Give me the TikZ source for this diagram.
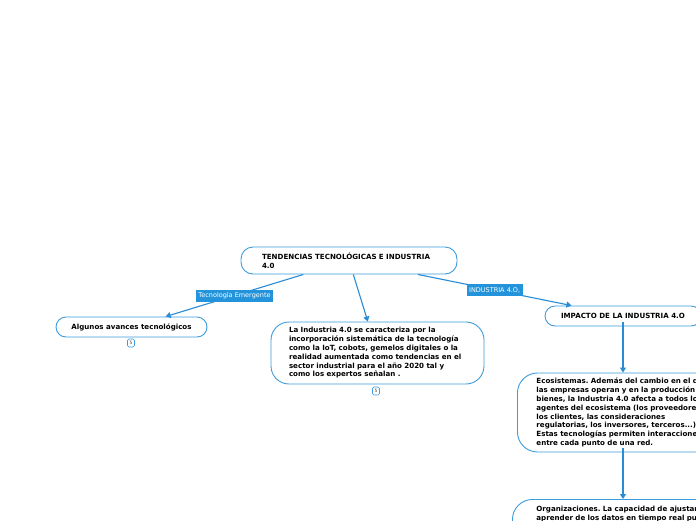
\documentclass[tikz,border=0pt]{standalone}
\usepackage{fontspec}
\setmainfont{DejaVu Sans}
\usetikzlibrary{arrows.meta}
\definecolor{bord}{HTML}{3C9CDC}
\definecolor{arr}{HTML}{2A8CD5}
\definecolor{lab}{HTML}{2394DB}
\frenchspacing
\begin{document}
\begin{tikzpicture}[x=1pt,y=-1pt,
  box/.style={draw=bord, line width=0.9pt, rounded corners=#1, fill=white,
    font=\fontsize{7.1}{8.8}\selectfont\bfseries, align=left, inner ysep=0pt},
  box/.default=10pt,
  conn/.style={draw=arr, line width=1.1pt, -{Triangle[length=5pt,width=6pt]}},
  lbl/.style={fill=lab, text=white, font=\fontsize{6.5}{7}\selectfont, inner xsep=2.5pt, inner ysep=0pt, minimum height=12pt},
  badge/.style={draw=bord, line width=0.6pt, rounded corners=1.5pt, fill=white, font=\fontsize{4.5}{5}\selectfont, inner sep=0pt, minimum width=7pt, minimum height=8pt, text=black!70}
]
\useasboundingbox (0,0) rectangle (696,520);
\clip (0,0) rectangle (696,520);
\fill[white] (0,0) rectangle (696,520);

\node[box=12pt, minimum width=216pt, minimum height=27pt, text width=174pt, inner xsep=21pt] (root) at (349,260.5)
  {TENDENCIAS TECNOLÓGICAS E INDUSTRIA\\4.0};

\node[box=10pt, minimum width=151pt, minimum height=20pt, align=center] (alg) at (131.5,327)
  {Algunos avances tecnológicos};
\node[badge] (b1) at (131,343) {5};

\node[box=18pt, minimum width=213pt, minimum height=62pt, text width=177pt, inner xsep=18pt] (mid) at (377.5,353)
  {La Industria 4.0 se caracteriza por la\\incorporación sistemática de la tecnología\\como la IoT, cobots, gemelos digitales o la\\realidad aumentada como tendencias en el\\sector industrial para el año 2020 tal y\\como los expertos señalan .};
\node[badge] (b2) at (376,391) {5};

\node[box=10pt, minimum width=156pt, minimum height=20pt, align=center] (imp) at (623,316)
  {IMPACTO DE LA INDUSTRIA 4.O};

\node[box=20pt, minimum height=79pt, text width=190pt, inner xsep=19pt, anchor=west] (eco) at (517,412.5)
  {Ecosistemas. Además del cambio en el que\\las empresas operan y en la producción de\\bienes, la Industria 4.0 afecta a todos los\\agentes del ecosistema (los proveedores,\\los clientes, las consideraciones\\regulatorias, los inversores, terceros...).\\Estas tecnologías permiten interacciones\\entre cada punto de una red.};

\node[box=20pt, minimum height=60pt, text width=198pt, inner xsep=24pt, anchor=north west] (org) at (512,499)
  {\rule{0pt}{10pt}Organizaciones. La capacidad de ajustarse y\\aprender de los datos en tiempo real puede\\\rule{0pt}{35pt}};

\draw[conn] (root) -- node[lbl] {Tecnología Emergente} (alg);
\draw[conn] (root) -- (mid);
\draw[conn] (root) -- node[lbl] {INDUSTRIA 4.O,} (imp);
\draw[conn] (imp.south) ++(0,4pt) coordinate (ia) (ia) -- (ia |- eco.north);
\draw[conn] (eco.south -| imp) ++(0,4pt) coordinate (ea) (ea) -- (ea |- org.north);
\end{tikzpicture}
\end{document}
